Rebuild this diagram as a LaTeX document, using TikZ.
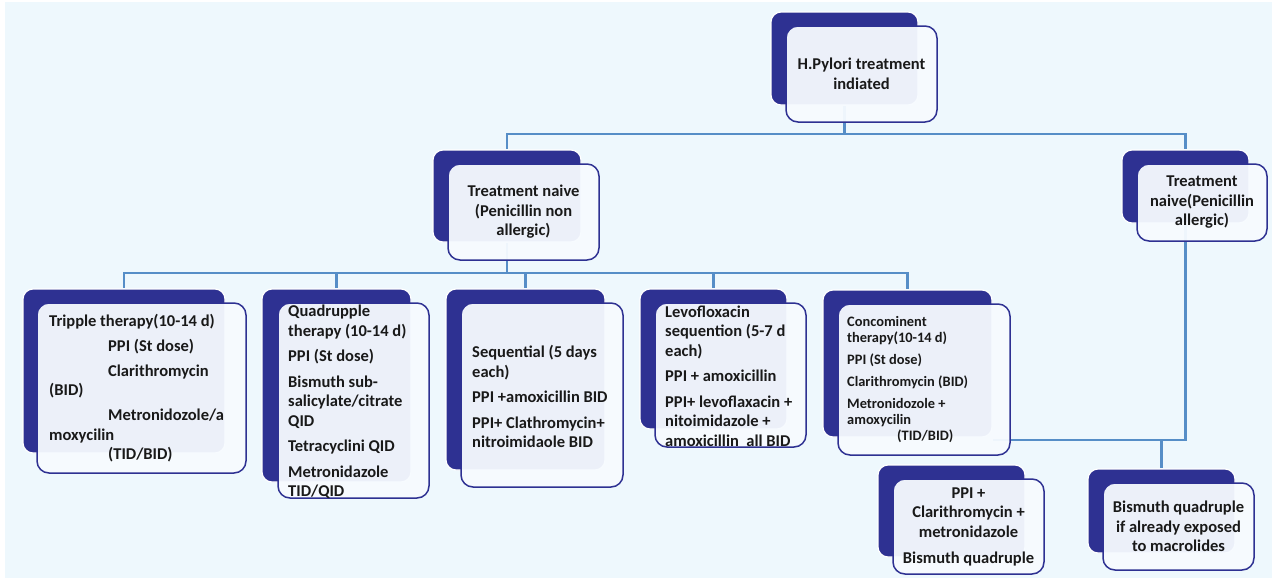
\documentclass[tikz,border=0pt]{standalone}
\usepackage{fontspec}
\setmainfont{Carlito}
\usetikzlibrary{positioning}

\definecolor{navy}{RGB}{46,49,146}
\definecolor{linkblue}{RGB}{86,142,199}
\definecolor{bgblue}{RGB}{238,248,253}
\definecolor{paleface}{RGB}{247,251,255}

\begin{document}
\begin{tikzpicture}[x=1pt,y=-1pt]

\tikzset{inner sep=0pt,
backbox/.style={fill=navy,draw=white,line width=1.2pt,rounded corners=10pt},
frontbox/.style={fill=paleface,fill opacity=0.95,text opacity=1,draw=navy,line width=1.5pt,rounded corners=12pt,
  align=center,text=black!90,font=\bfseries\fontsize{16.5}{19.5}\selectfont},
txt/.style={anchor=west,align=left,text=black!90,font=\bfseries\fontsize{16.5}{19.5}\selectfont},
smalltxt/.style={anchor=west,align=left,text=black!90,font=\bfseries\fontsize{14.4}{16}\selectfont},
link/.style={draw=linkblue,line width=2.2pt}}

% Canvas
\useasboundingbox (0,0) rectangle (1275,579);
\fill[white] (0,0) rectangle (1275,579);
\fill[bgblue] (5,2) rectangle (1272,578);

% Back boxes
\node[backbox,minimum width=147pt,minimum height=93pt] (topB) at (844.5,58.5) {};
\node[backbox,minimum width=148pt,minimum height=92pt] (midB) at (507,196) {};
\node[backbox,minimum width=127pt,minimum height=73pt] (rightB) at (1185.5,186.5) {};
\node[backbox,minimum width=202pt,minimum height=164pt] (tripB) at (124,371) {};
\node[backbox,minimum width=149pt,minimum height=193pt] (quadB) at (336.5,385.5) {};
\node[backbox,minimum width=159pt,minimum height=181pt] (seqB) at (525.5,379.5) {};
\node[backbox,minimum width=147pt,minimum height=140pt] (levoB) at (713.5,359) {};
\node[backbox,minimum width=169pt,minimum height=147pt] (concB) at (907.5,363.5) {};
\node[backbox,minimum width=147pt,minimum height=92pt] (clarB) at (951.5,511) {};
\node[backbox,minimum width=147pt,minimum height=84pt] (bisB) at (1161.5,511) {};

% Connectors
\coordinate (lvlone) at (0,134);
\coordinate (lvltwo) at (0,273);
\coordinate (lvlthree) at (0,440);

\draw[link] (topB.south) -- (topB.south |- lvlone) -| (midB.north);
\draw[link] (topB.south |- lvlone) -| (rightB.north);

\draw[link] (midB.south) -- (midB.south |- lvltwo) -| (tripB.north);
\draw[link] (midB.south |- lvltwo) -| (quadB.north);
\draw[link] (midB.south |- lvltwo) -| (seqB.north);
\draw[link] (midB.south |- lvltwo) -| (levoB.north);
\draw[link] (midB.south |- lvltwo) -| (concB.north);

\draw[link] (rightB.south) -- (rightB.south |- lvlthree) -- (concB.east |- lvlthree);
\draw[link] (rightB.south |- lvlthree) -| (bisB.north);

% Front boxes
\node[frontbox,minimum width=151pt,minimum height=96pt] (top) at (861.5,74) {H.Pylori treatment\\indiated};
\node[frontbox,minimum width=151pt,minimum height=96pt] (mid) at (523.5,212) {Treatment naive\\(Penicillin non\\allergic)};
\node[frontbox,minimum width=130pt,minimum height=77pt] (right) at (1202,202.5) {Treatment\\naive(Penicillin\\allergic)};
\node[frontbox,minimum width=209pt,minimum height=170pt] (trip) at (141.5,388) {};
\node[frontbox,minimum width=151pt,minimum height=195pt] (quad) at (353.5,400.5) {};
\node[frontbox,minimum width=162pt,minimum height=184pt] (seq) at (542,395) {};
\node[frontbox,minimum width=151pt,minimum height=144pt] (levo) at (730.5,375) {};
\node[frontbox,minimum width=172pt,minimum height=151pt] (conc) at (924,379.5) {};
\node[frontbox,minimum width=151pt,minimum height=95pt] (clar) at (968.5,526.5) {PPI +\\Clarithromycin +\\metronidazole\\[6.5pt]Bismuth quadruple};
\node[frontbox,minimum width=151pt,minimum height=87pt] (bis) at (1178.5,526.5) {Bismuth quadruple\\if already exposed\\to macrolides};

% Regimen texts
\node[txt] (tripT) at (49,388) {Tripple therapy(10-14 d)\\[5.5pt]
\hspace*{59pt}PPI (St dose)\\[5.5pt]
\hspace*{59pt}Clarithromycin\\
(BID)\\[5.5pt]
\hspace*{59pt}Metronidozole/a\\
moxycilin\\
\hspace*{59pt}(TID/BID)};

\node[txt] (quadT) at (288,402) {Quadrupple\\therapy (10-14 d)\\[6pt]
PPI (St dose)\\[6pt]
Bismuth sub-\\salicylate/citrate\\QID\\[6pt]
Tetracyclini QID\\[6pt]
Metronidazole\\TID/QID};

\node[txt] (seqT) at (472,396.5) {Sequential (5 days\\each)\\[6pt]
PPI +amoxicillin BID\\[6pt]
PPI+ Clathromycin+\\nitroimidaole BID};

\node[txt] (levoT) at (665,376) {Levofloxacin\\sequention (5-7 d\\each)\\[6pt]
PPI + amoxicillin\\[6pt]
PPI+ levoflaxacin +\\nitoimidazole +\\amoxicillin\ \ all BID};

\node[smalltxt] (concT) at (847,379.5) {Concominent\\therapy(10-14 d)\\[6pt]
PPI (St dose)\\[6pt]
Clarithromycin (BID)\\[6pt]
Metronidozole +\\amoxycilin\\
\hspace*{50pt}(TID/BID)};

\end{tikzpicture}
\end{document}
